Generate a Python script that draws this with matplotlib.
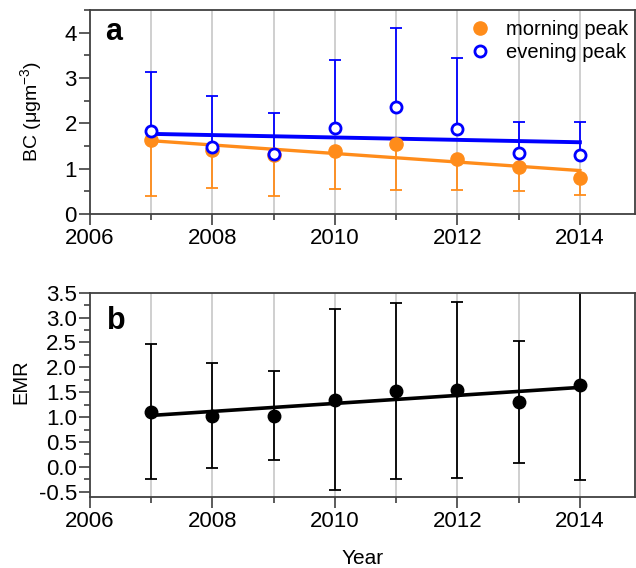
import numpy as np
import matplotlib
matplotlib.use("Agg")
import matplotlib.pyplot as plt
from matplotlib.ticker import MultipleLocator

plt.rcParams['font.family'] = ['Liberation Sans', 'DejaVu Sans']
plt.rcParams['mathtext.fontset'] = 'custom'
plt.rcParams['mathtext.rm'] = 'Liberation Sans'
plt.rcParams['mathtext.it'] = 'Liberation Sans:italic'
plt.rcParams['axes.unicode_minus'] = False

years = [2007, 2008, 2009, 2010, 2011, 2012, 2013, 2014]
morning = [1.63, 1.41, 1.30, 1.39, 1.54, 1.21, 1.03, 0.79]
morning_low = [0.40, 0.58, 0.40, 0.56, 0.52, 0.54, 0.51, 0.43]
evening = [1.83, 1.48, 1.32, 1.89, 2.35, 1.88, 1.35, 1.30]
evening_high = [3.13, 2.61, 2.23, 3.40, 4.10, 3.44, 2.03, 2.03]
emr = [1.11, 1.03, 1.03, 1.35, 1.52, 1.54, 1.30, 1.64]
emr_err = [1.35, 1.06, 0.90, 1.82, 1.77, 1.77, 1.23, 1.91]

orange = '#ff8c1a'
blue = '#0000ff'
spine_c = '#404040'
grid_c = '#cccccc'

W, H = 636, 568
fig = plt.figure(figsize=(W / 100, H / 100), dpi=100)

def px_axes(l, t, r, b):
    return fig.add_axes([l / W, 1 - b / H, (r - l) / W, (b - t) / H])

ax1 = px_axes(90, 10, 635, 214)
ax2 = px_axes(90, 292.7, 635, 496.7)

x = np.array(years, dtype=float)

def style(ax):
    ax.set_xlim(2006, 2014.9)
    ax.xaxis.set_major_locator(MultipleLocator(2))
    ax.xaxis.set_minor_locator(MultipleLocator(1))
    for s in ax.spines.values():
        s.set_color(spine_c)
        s.set_linewidth(1.3)
    ax.tick_params(which='major', direction='out', length=8, width=1.2,
                   color=spine_c, labelsize=16)
    ax.tick_params(axis='y', which='major', pad=1.5)
    ax.tick_params(axis='x', which='major', pad=2)
    ax.tick_params(which='minor', direction='out', length=4, width=1.2,
                   color=spine_c)
    for yr in years:
        ax.axvline(yr, color=grid_c, lw=1.3, zorder=0)

# Panel a
style(ax1)
ax1.set_ylim(0, 4.5)
ax1.yaxis.set_major_locator(MultipleLocator(1))
ax1.yaxis.set_minor_locator(MultipleLocator(0.5))

m = np.array(morning)
ml = m - np.array(morning_low)
e = np.array(evening)
eh = np.array(evening_high) - e

ax1.errorbar(x, m, yerr=[ml, np.zeros_like(ml)], fmt='none', ecolor=orange,
             elinewidth=1.3, capsize=4.5, capthick=1.3, zorder=2)
ax1.errorbar(x, e, yerr=[np.zeros_like(eh), eh], fmt='none', ecolor=blue,
             elinewidth=1.3, capsize=4.5, capthick=1.3, zorder=2)

pm = np.polyfit(x, m, 1)
pe = np.polyfit(x, e, 1)
ax1.plot(x[[0, -1]], np.polyval(pm, x[[0, -1]]), color=orange, lw=2.4, zorder=3)
ax1.plot(x[[0, -1]], np.polyval(pe, x[[0, -1]]), color=blue, lw=2.8, zorder=3)

lm, = ax1.plot(x, m, 'o', color=orange, ms=9.5, mec=orange, zorder=4,
               label='morning peak')
le, = ax1.plot(x, e, 'o', mfc='white', mec=blue, mew=2.0, ms=8, zorder=5,
               label='evening peak')
ax1.legend(handles=[lm, le], loc='upper right', bbox_to_anchor=(1.01, 1.01),
           frameon=False, fontsize=14.5, handletextpad=0.7, borderaxespad=0.2,
           labelspacing=0.22, handlelength=1.2)
ax1.set_ylabel('BC (μgm$^{-3}$)', fontsize=14)
ax1.yaxis.set_label_coords((44 - 90) / 545, 0.5)

# Panel b
style(ax2)
ax2.set_ylim(-0.6, 3.5)
ax2.yaxis.set_major_locator(MultipleLocator(0.5))
ax2.yaxis.set_minor_locator(MultipleLocator(0.25))
r = np.array(emr)
ax2.errorbar(x, r, yerr=np.array(emr_err), fmt='none', ecolor='black',
             elinewidth=1.3, capsize=4.5, capthick=1.3, zorder=2)
pr = np.polyfit(x, r, 1)
ax2.plot(x[[0, -1]], np.polyval(pr, x[[0, -1]]), color='black', lw=2.6, zorder=3)
ax2.plot(x, r, 'o', color='black', ms=9, zorder=4)
ax2.set_ylabel('EMR', fontsize=14.5)
ax2.yaxis.set_label_coords((30 - 90) / 545, (496.7 - 382) / 204)
ax2.set_xlabel('Year', fontsize=15)
ax2.xaxis.set_label_coords(0.5, (496.7 - 549) / 204)

fig.text(105 / W, 1 - 40 / H, 'a', fontsize=22, fontweight='bold')
fig.text(107 / W, 1 - 328.7 / H, 'b', fontsize=22, fontweight='bold')

fig.savefig('out.png', dpi=100)
